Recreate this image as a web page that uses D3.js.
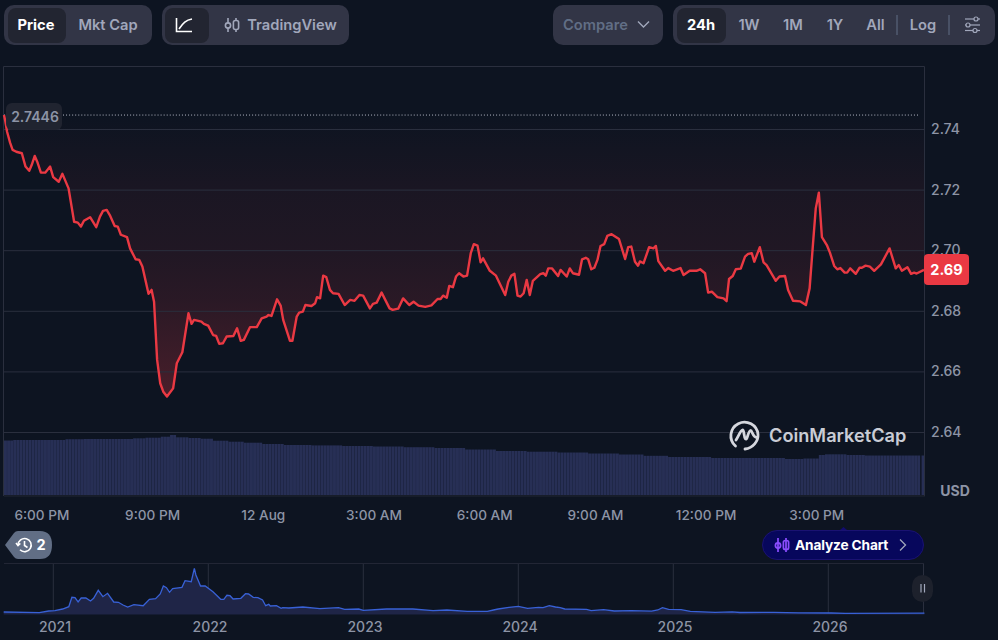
<!DOCTYPE html>
<html><head><meta charset="utf-8">
<script src="https://cdnjs.cloudflare.com/ajax/libs/d3/7.8.5/d3.min.js"></script>
<style>html,body{margin:0;padding:0;background:#0d1421;overflow:hidden}svg{display:block;font-family:Inter,"Noto Sans",sans-serif}</style>
</head><body><svg id="c" width="998" height="640"></svg>
<script>
// minutes after 5:00 PM
const priceMinutes=[0,2,5,10,14,20,29,35,41,45,50,54,60,67,75,80,89,95,105,114,120,125,130,140,150,156,161,167,172,180,185,190,200,205,214,220,225,235,240,244,249,254,259,265,275,281,290,300,305,309,321,325,332,340,345,350,356,362,373,379,385,390,400,411,419,427,430,435,444,450,454,465,469,476,480,486,490,500,506,509,514,519,524,530,535,544,554,563,570,578,584,595,600,606,614,627,632,641,649,659,666,674,685,695,705,710,714,720,724,730,735,740,747,753,759,764,770,775,779,790,800,815,820,825,830,835,840,845,850,855,860,872,877,881,885,891,901,905,915,920,925,935,940,946,950,955,960,965,970,976,981,988,1000,1010,1015,1020,1026,1031,1034,1040,1049,1056,1060,1064,1075,1080,1088,1100,1105,1115,1126,1132,1140,1145,1151,1160,1170,1175,1179,1185,1190,1198,1205,1210,1216,1220,1229,1235,1240,1255,1261,1270,1275,1283,1295,1304,1310,1316,1320,1325,1330,1338,1343,1350,1355,1360,1367,1371,1376,1385,1391,1395,1401,1408,1415,1426,1440,1450,1455,1460,1469,1475,1480,1484,1496];
const priceValues=[2.7446,2.7427,2.7391,2.7354,2.7331,2.7325,2.7320,2.7276,2.7262,2.7281,2.7311,2.7292,2.7256,2.7256,2.7276,2.7241,2.7226,2.7252,2.7204,2.7094,2.7091,2.7078,2.7097,2.7109,2.7076,2.7111,2.7130,2.7133,2.7116,2.7080,2.7078,2.7051,2.7043,2.7006,2.6970,2.6968,2.6946,2.6856,2.6869,2.6830,2.6638,2.6561,2.6533,2.6517,2.6544,2.6627,2.6663,2.6792,2.6757,2.6770,2.6764,2.6757,2.6751,2.6720,2.6717,2.6691,2.6693,2.6715,2.6717,2.6742,2.6701,2.6704,2.6746,2.6746,2.6775,2.6781,2.6786,2.6783,2.6838,2.6816,2.6770,2.6701,2.6701,2.6781,2.6794,2.6797,2.6819,2.6816,2.6825,2.6845,2.6841,2.6916,2.6911,2.6869,2.6858,2.6856,2.6819,2.6836,2.6833,2.6852,2.6850,2.6808,2.6823,2.6827,2.6860,2.6808,2.6803,2.6807,2.6841,2.6819,2.6830,2.6817,2.6813,2.6818,2.6839,2.6839,2.6850,2.6843,2.6882,2.6878,2.6913,2.6924,2.6913,2.6916,2.6990,2.7020,2.7015,2.6960,2.6973,2.6932,2.6916,2.6852,2.6896,2.6916,2.6922,2.6850,2.6847,2.6858,2.6902,2.6852,2.6899,2.6921,2.6924,2.6916,2.6940,2.6940,2.6915,2.6935,2.6913,2.6940,2.6924,2.6919,2.6970,2.6975,2.6970,2.6937,2.6942,2.6968,2.7014,2.7020,2.7047,2.7053,2.7037,2.6971,2.7010,2.7012,2.6962,2.6949,2.6963,2.6957,2.7010,2.7006,2.7014,2.6964,2.6932,2.6941,2.6932,2.6941,2.6918,2.6932,2.6932,2.6937,2.6924,2.6860,2.6863,2.6845,2.6841,2.6832,2.6905,2.6915,2.6937,2.6939,2.6979,2.6988,2.6990,2.6962,2.7010,2.6960,2.6951,2.6899,2.6913,2.6915,2.6869,2.6833,2.6831,2.6819,2.6874,2.7034,2.7138,2.7190,2.7043,2.7017,2.6992,2.6948,2.6937,2.6941,2.6926,2.6926,2.6940,2.6922,2.6942,2.6942,2.6949,2.6946,2.6932,2.6953,2.7006,2.6940,2.6951,2.6932,2.6944,2.6922,2.6926,2.6923,2.6935];
const basePrice=2.7446, lastPriceLabel="2.69", basePriceLabel="2.7446";
const yTicks=[2.64,2.66,2.68,2.70,2.72,2.74];
const xTickMinutes=[60,240,420,600,780,960,1140,1320];
const xTickLabels=["6:00 PM","9:00 PM","12 Aug","3:00 AM","6:00 AM","9:00 AM","12:00 PM","3:00 PM"];
// 24h volume, relative units, held from each start minute
const volumeStarts=[0,15,100,130,210,230,254,270,280,300,319,340,365,389,420,454,500,550,600,650,700,750,800,850,900,950,1000,1040,1080,1150,1270,1300,1325,1335,1370,1400];
const volumeValues=[54.5,55,55.8,56,56.7,57.3,58.3,60,57.7,57,56.3,54.3,53.3,52.3,51,50,49.6,49,48.5,47.8,47,45.5,44,43.3,42.5,41.5,40.5,39.2,38,37,36,36.5,40,40.7,40,39.5];
const volumeBarMinutes=d3.range(0,1490,5).concat([1492]);
const historyYears=[2020.68,2020.91,2020.97,2021.01,2021.06,2021.10,2021.12,2021.14,2021.16,2021.18,2021.21,2021.24,2021.26,2021.29,2021.32,2021.35,2021.39,2021.42,2021.45,2021.48,2021.52,2021.58,2021.62,2021.66,2021.69,2021.71,2021.73,2021.75,2021.77,2021.83,2021.85,2021.89,2021.91,2021.92,2021.95,2021.98,2022.03,2022.08,2022.10,2022.12,2022.14,2022.16,2022.21,2022.24,2022.26,2022.29,2022.32,2022.35,2022.37,2022.39,2022.40,2022.44,2022.47,2022.48,2022.52,2022.61,2022.72,2022.84,2022.88,2022.97,2023.00,2023.15,2023.32,2023.45,2023.54,2023.67,2023.80,2023.84,2023.87,2023.94,2024.00,2024.06,2024.13,2024.16,2024.20,2024.24,2024.27,2024.30,2024.44,2024.47,2024.55,2024.62,2024.73,2024.86,2024.90,2024.93,2024.97,2025.05,2025.11,2025.27,2025.38,2025.43,2025.65,2025.81,2026.02,2026.11,2026.62];
const historyValues=[2.5,1.8,3.5,3.8,5.5,7.8,17.2,16.8,12.5,16.5,16.5,13.5,16.2,24.2,17.8,21.2,12.5,12.2,9.5,7.5,9.8,8.8,15.2,15.8,20.5,28.5,26.8,22.2,25.8,27.2,33.8,32.8,46.2,39.5,28.5,28.5,22.8,15.2,15.2,19.2,18.8,15.5,16.2,20.8,20.5,17.2,16.8,14.5,8.8,10.2,8.5,8.8,6.2,6.8,6.5,7.5,5.8,6.8,5.2,5.5,4.2,5.5,5.5,3.8,4.5,3.2,3.2,4.5,5.5,7.2,8.2,6.2,7.2,6.8,8.8,7.5,6.8,5.5,5.2,3.8,4.8,3.5,3.8,3.3,4.5,6.8,5.2,4.8,3.2,2.2,2.7,2.0,2.2,1.7,1.5,1.2,1.3];
const historyTicks=[2021,2022,2023,2024,2025,2026];

const svg=d3.select("#c");
const defs=svg.append("defs");
const L=4,R=925,T=66.5,B=496;
const x=d3.scaleLinear().domain([0,1496]).range([L,924]);
const y=d3.scaleLinear().domain([2.64,2.74]).range([432,129]);
const v=d3.scaleLinear().domain([0,100]).range([495,395]);
const hx=d3.scaleLinear().domain([2021,2026]).range([53.3,828.3]);
const hy=d3.scaleLinear().domain([0,50]).range([614.5,564.5]);
const GRID="#2a2f3e",AX="#8d94a6";

// toolbar
function grp(x0,w,f){svg.append("rect").attr("x",x0).attr("y",5).attr("width",w).attr("height",40).attr("rx",10).attr("fill",f||"#323546");}
function act(x0,w){svg.append("rect").attr("x",x0).attr("y",8).attr("width",w).attr("height",35).attr("rx",8).attr("fill","#222531");}
function lab(t,cx,c,w,a){svg.append("text").attr("x",cx).attr("y",30).attr("text-anchor",a||"middle").attr("font-size",14.7).attr("font-weight",w||600).attr("fill",c).text(t);}
const BT="#a1a7bb";
grp(4,148);act(8,58);lab("Price",36,"#fff",700);lab("Mkt Cap",108,BT);
grp(162,187);act(165,44);lab("TradingView",292,BT);
svg.append("path").attr("d","M176.5 18V31.5H192M179 29C183 23 186 20 192 19").attr("fill","none").attr("stroke","#fff").attr("stroke-width",1.6);
function candles(cx,cy,c,sw){const g=svg.append("g").attr("transform",`translate(${cx},${cy})`).attr("fill","none").attr("stroke",c).attr("stroke-width",sw||1.6);
 g.append("path").attr("d","M-4 -7V7M4 -7V7");
 g.append("circle").attr("cx",-4).attr("cy",0.5).attr("r",2.6).attr("fill","#323546");
 g.append("rect").attr("x",1.4).attr("y",-4.5).attr("width",5.2).attr("height",9).attr("rx",2).attr("fill","#323546");return g;}
candles(232,25,BT);
grp(553,110);lab("Compare",595.5,"#616e85");
svg.append("path").attr("d","M638 21.5L643.5 27L649 21.5").attr("fill","none").attr("stroke","#a1a7bb").attr("stroke-width",1.4);
grp(673,322);act(677,49);lab("24h",701,"#fff",700);
[["1W",749],["1M",793],["1Y",835],["All",875.5],["Log",923]].forEach(d=>lab(d[0],d[1],BT));
[897,949].forEach(sx=>svg.append("line").attr("x1",sx).attr("x2",sx).attr("y1",15).attr("y2",35).attr("stroke","#616e85").attr("stroke-width",1));
const sl=svg.append("g").attr("stroke",BT).attr("fill","#323546").attr("stroke-width",1.2);
[[19,976],[25,968],[30.5,975]].forEach(d=>{sl.append("line").attr("x1",965).attr("x2",980).attr("y1",d[0]).attr("y2",d[0]);sl.append("circle").attr("cx",d[1]).attr("cy",d[0]).attr("r",2);});

// gradient fill between the open price and the line
const grad=defs.append("linearGradient").attr("id","rg").attr("gradientUnits","userSpaceOnUse").attr("x1",0).attr("x2",0).attr("y1",y(basePrice)).attr("y2",y(2.6517));
[[0,0],[.266,.06],[.496,.09],[.656,.13],[.904,.23],[1,.28]].forEach(s=>grad.append("stop").attr("offset",s[0]).attr("stop-color","#ea3943").attr("stop-opacity",s[1]));
const pts=priceMinutes.map((m,i)=>[m,priceValues[i]]);
svg.append("path").datum(pts).attr("fill","url(#rg)").attr("d",d3.area().x(d=>x(d[0])).y0(y(basePrice)).y1(d=>y(d[1])));

// volume
const volAt=m=>volumeValues[d3.bisectRight(volumeStarts,m)-1];
svg.append("g").selectAll("rect").data(volumeBarMinutes).join("rect")
 .attr("x",m=>x(m)).attr("width",2.95).attr("y",m=>v(volAt(m))).attr("height",m=>v(0)-v(volAt(m))).attr("fill","#272f55");

// grid + frame
svg.append("g").selectAll("line").data(yTicks).join("line").attr("x1",L).attr("x2",R).attr("y1",d=>y(d)+.5).attr("y2",d=>y(d)+.5).attr("stroke",GRID).attr("stroke-width",1);
svg.append("path").attr("d",`M${L-.5} ${B}V${T}H${R-.5}V${B}`).attr("fill","none").attr("stroke","#2a2f3e");
svg.append("line").attr("x1",L).attr("x2",R).attr("y1",B).attr("y2",B).attr("stroke","#222635");

// axes
const ya=d3.axisRight(y).tickValues(yTicks).tickFormat(d3.format(".2f")).tickSize(0).tickPadding(0);
const yg=svg.append("g").attr("transform","translate(931,0)").call(ya);
const xa=d3.axisBottom(x).tickValues(xTickMinutes).tickFormat((d,i)=>xTickLabels[i]).tickSize(0).tickPadding(0);
const xg=svg.append("g").attr("transform","translate(0.5,510)").call(xa);
[yg,xg].forEach(g=>{g.select(".domain").remove();g.selectAll("text").attr("fill",AX).attr("font-weight",500).attr("font-family","Inter");});
yg.selectAll("text").attr("font-size",14);xg.selectAll("text").attr("font-size",13.6);
svg.append("text").attr("x",955).attr("y",496).attr("text-anchor","middle").attr("font-size",14).attr("font-weight",700).attr("fill",AX).text("USD");

// dotted open price
svg.append("line").attr("x1",63).attr("x2",920).attr("y1",y(basePrice)).attr("y2",y(basePrice)).attr("stroke","#b5b9c6").attr("stroke-width",1).attr("stroke-dasharray","1 2.05");
svg.append("line").attr("x1",4).attr("x2",6).attr("y1",y(basePrice)).attr("y2",y(basePrice)).attr("stroke","#b5b9c6").attr("stroke-dasharray","1 2.05");

// price line
svg.append("path").datum(pts).attr("fill","none").attr("stroke","#ea3943").attr("stroke-width",2.4).attr("stroke-linejoin","round").attr("d",d3.line().x(d=>x(d[0])).y(d=>y(d[1])));

// tags
svg.append("rect").attr("x",6).attr("y",103).attr("width",56).attr("height",27).attr("rx",6).attr("fill","#222531").attr("fill-opacity",.95);
svg.append("text").attr("x",35).attr("y",122).attr("text-anchor","middle").attr("font-size",14).attr("font-weight",600).attr("fill","#8d94a6").text(basePriceLabel);
svg.append("rect").attr("x",924).attr("y",254).attr("width",45).attr("height",31).attr("rx",4).attr("fill","#ea3943");
svg.append("text").attr("x",946.5).attr("y",275).attr("text-anchor","middle").attr("font-size",14.5).attr("font-weight",700).attr("fill","#fff").text(lastPriceLabel);

// watermark
const wm=svg.append("g").attr("fill","none").attr("stroke","#d5d7de").attr("stroke-width",2.8).attr("stroke-linecap","round").attr("stroke-linejoin","round");
wm.append("path").attr("d","M735.5 446A13.6 13.6 0 1 1 758 434.5C758.5 441 753 448 745 449");
wm.append("path").attr("d","M736 440C738.5 436 740.5 430.5 742.5 430C744.5 429.8 743.5 437 745.5 439C747.5 440.5 748 431 750.5 430.5C752.5 430.5 752.5 437.5 757 437.5");
svg.append("text").attr("x",769).attr("y",442).attr("font-size",18.2).attr("font-weight",600).attr("fill","#c9ccd5").text("CoinMarketCap");

// history badge
svg.append("path").attr("d","M5 545L14 533Q15.5 531 18 531H40Q52 531 52 545Q52 559 40 559H18Q15.5 559 14 557Z").attr("fill","#616e85");
const hb=svg.append("g").attr("fill","none").attr("stroke","#fff").attr("stroke-width",1.6);
hb.append("path").attr("d","M18 545A6.6 6.6 0 1 1 20 549.8");hb.append("path").attr("d","M24.5 541V545.5L27.5 547.5");hb.append("path").attr("d","M16 543L18 545.5L20.3 543.4");
svg.append("text").attr("x",41).attr("y",550).attr("text-anchor","middle").attr("font-size",14.5).attr("font-weight",700).attr("fill","#fff").text("2");

// analyze button
svg.append("path").attr("d","M840 530L843.5 527L847 530Z").attr("fill","#120c6e");
svg.append("rect").attr("x",762.5).attr("y",530.5).attr("width",161).attr("height",29).attr("rx",14.5).attr("fill","#07075c").attr("stroke","#1a1272");
const ac=candles(782,545,"#8b4dff",1.7);ac.selectAll("circle,rect").attr("fill","none");
svg.append("text").attr("x",795).attr("y",550).attr("font-size",13.7).attr("font-weight",700).attr("letter-spacing",-.15).attr("fill","#fff").text("Analyze Chart");
svg.append("path").attr("d","M900 539.5L905.5 545L900 550.5").attr("fill","none").attr("stroke","#a1a7bb").attr("stroke-width",1.3);

// overview
svg.append("line").attr("x1",4).attr("x2",924).attr("y1",563.5).attr("y2",563.5).attr("stroke","#222635");
svg.append("g").selectAll("line").data(historyTicks).join("line").attr("x1",d=>hx(d)).attr("x2",d=>hx(d)).attr("y1",564).attr("y2",614).attr("stroke","#2a2f3e");
svg.append("line").attr("x1",923.5).attr("x2",923.5).attr("y1",564).attr("y2",614).attr("stroke","#2a2f3e");
const hp=historyYears.map((t,i)=>[t,historyValues[i]]);
svg.append("path").datum(hp).attr("fill","#1f2547").attr("d",d3.area().x(d=>hx(d[0])).y0(hy(0)).y1(d=>hy(d[1])));
svg.append("path").datum(hp).attr("fill","none").attr("stroke","#3861d6").attr("stroke-width",1.3).attr("d",d3.line().x(d=>hx(d[0])).y(d=>hy(d[1])));
const ha=d3.axisBottom(hx).tickValues(historyTicks).tickFormat(d3.format("d")).tickSize(0).tickPadding(0);
const hg=svg.append("g").attr("transform","translate(1.2,622)").call(ha);
hg.select(".domain").remove();hg.selectAll("text").attr("fill",AX).attr("font-size",14).attr("font-weight",500).attr("font-family","Inter");
svg.append("rect").attr("x",912).attr("y",575).attr("width",21).attr("height",27).attr("rx",10.5).attr("fill","#1d212c");
svg.append("path").attr("d","M921 584V592.5M924.5 584V592.5").attr("stroke","#a1a7bb").attr("stroke-width",1.2);
</script></body></html>
